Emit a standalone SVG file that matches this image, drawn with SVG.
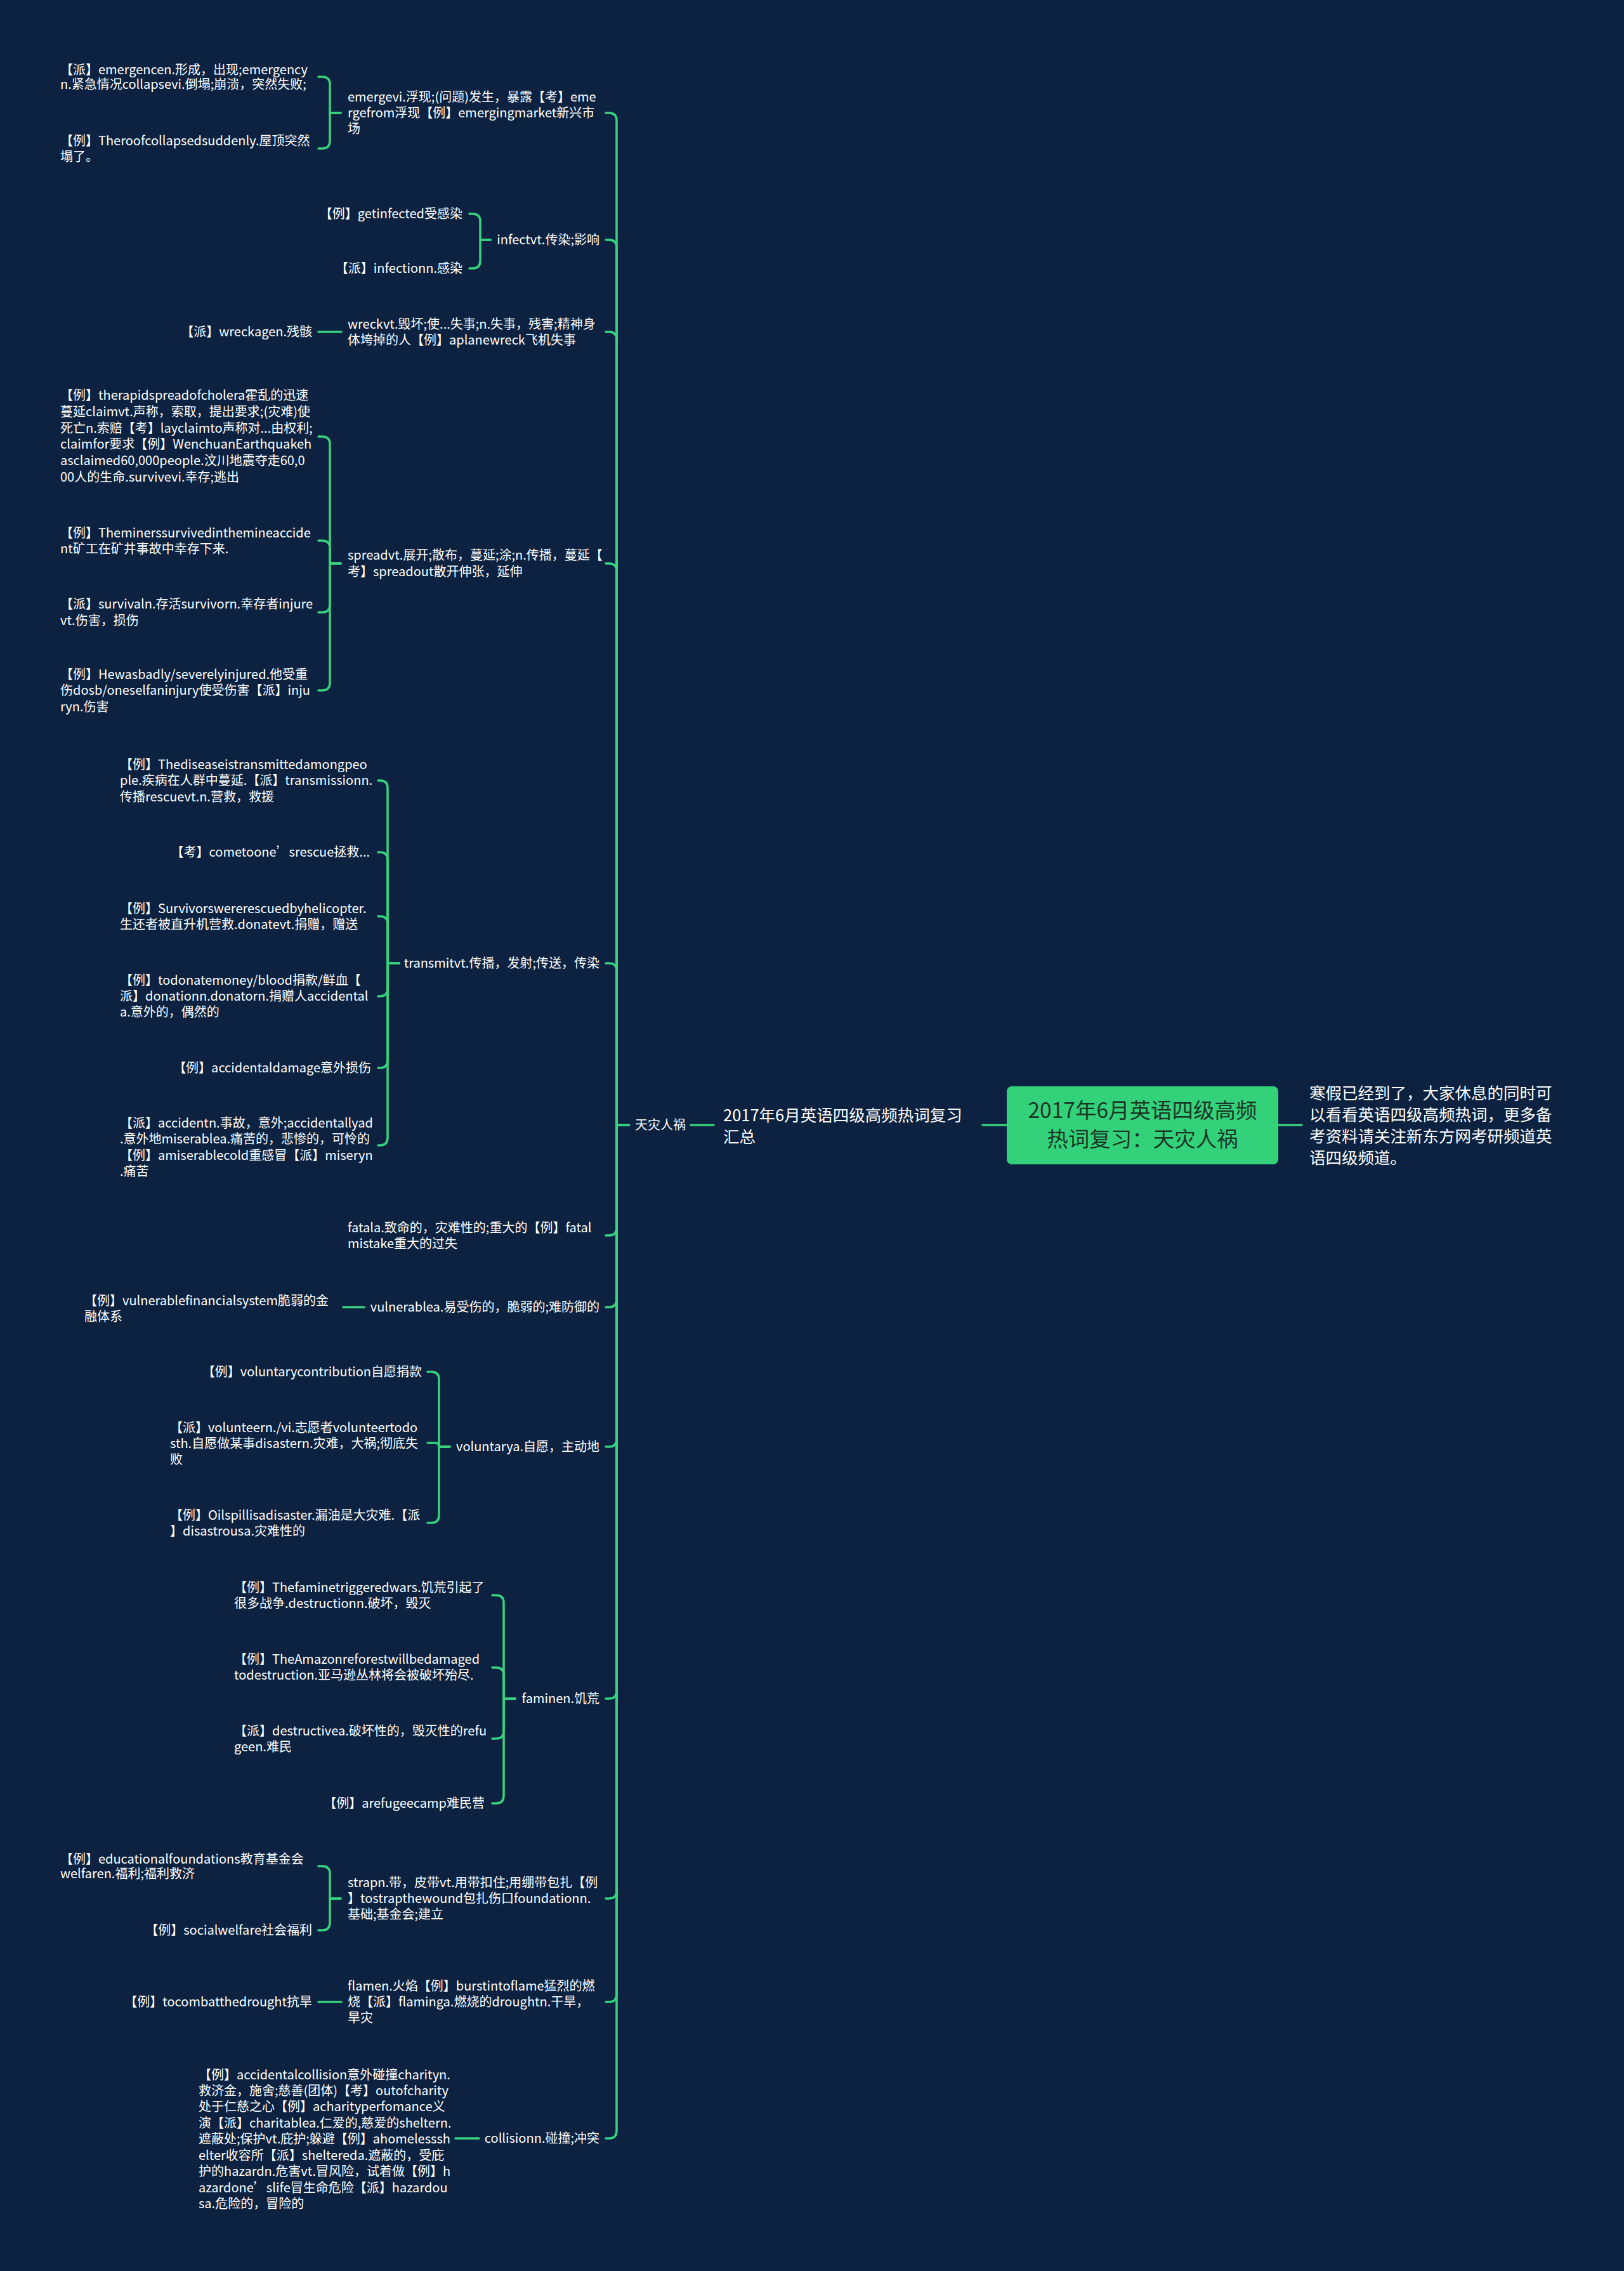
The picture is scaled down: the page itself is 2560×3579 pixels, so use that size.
<svg xmlns="http://www.w3.org/2000/svg" width="2560" height="3579" viewBox="0 0 2560 3579">
<style>
.t{font-family:"Noto Sans CJK SC","Liberation Sans",sans-serif;font-size:20px;fill:#ffffff}
.e{text-anchor:end}
.m{font-size:25.5px}
.r{font-family:"Noto Sans CJK SC","Liberation Sans",sans-serif;font-size:33.5px;fill:#1b3626;text-anchor:middle}
.c{fill:none;stroke:#38d27e;stroke-width:3.5;stroke-linecap:round;stroke-linejoin:round}
</style>
<rect x="0" y="0" width="2560" height="3579" fill="#0c2240"/>
<g id="connectors">
<path class="c" d="M1549 1773H1587"/>
<path class="c" d="M2015 1773H2052"/>
<path class="c" d="M1089 1773H1125"/>
<path class="c" d="M991 1773H972V190Q972 178 960 178H955"/>
<path class="c" d="M991 1773H972V390Q972 378 960 378H955"/>
<path class="c" d="M991 1773H972V535Q972 523 960 523H955"/>
<path class="c" d="M991 1773H972V900Q972 888 960 888H955"/>
<path class="c" d="M991 1773H972V1530Q972 1518 960 1518H955"/>
<path class="c" d="M991 1773H972V1935Q972 1947 960 1947H955"/>
<path class="c" d="M991 1773H972V2048Q972 2060 960 2060H955"/>
<path class="c" d="M991 1773H972V2268Q972 2280 960 2280H955"/>
<path class="c" d="M991 1773H972V2665Q972 2677 960 2677H955"/>
<path class="c" d="M991 1773H972V2980Q972 2992 960 2992H955"/>
<path class="c" d="M991 1773H972V3143Q972 3155 960 3155H955"/>
<path class="c" d="M991 1773H972V3358Q972 3370 960 3370H955"/>
<path class="c" d="M537 178H520V133Q520 121 508 121H502"/>
<path class="c" d="M537 178H520V222Q520 234 508 234H502"/>
<path class="c" d="M773 378H757V349Q757 337 745 337H740"/>
<path class="c" d="M773 378H757V411Q757 423 745 423H740"/>
<path class="c" d="M538 523H502"/>
<path class="c" d="M537 888H520V700Q520 688 508 688H502"/>
<path class="c" d="M537 888H520V864Q520 852 508 852H502"/>
<path class="c" d="M537 888H520V953Q520 965 508 965H502"/>
<path class="c" d="M537 888H520V1076Q520 1088 508 1088H502"/>
<path class="c" d="M629 1518H611V1242Q611 1230 599 1230H596"/>
<path class="c" d="M629 1518H611V1355Q611 1343 599 1343H596"/>
<path class="c" d="M629 1518H611V1456Q611 1444 599 1444H596"/>
<path class="c" d="M629 1518H611V1558Q611 1570 599 1570H596"/>
<path class="c" d="M629 1518H611V1671Q611 1683 599 1683H596"/>
<path class="c" d="M629 1518H611V1793Q611 1805 599 1805H596"/>
<path class="c" d="M574 2060H541"/>
<path class="c" d="M709 2280H692V2174Q692 2162 680 2162H674"/>
<path class="c" d="M709 2280H692Q692 2274 686 2274H674"/>
<path class="c" d="M709 2280H692V2388Q692 2400 680 2400H674"/>
<path class="c" d="M812 2677H794V2526Q794 2514 782 2514H776"/>
<path class="c" d="M812 2677H794V2640Q794 2628 782 2628H776"/>
<path class="c" d="M812 2677H794V2728Q794 2740 782 2740H776"/>
<path class="c" d="M812 2677H794V2830Q794 2842 782 2842H776"/>
<path class="c" d="M537 2992H520V2953Q520 2941 508 2941H502"/>
<path class="c" d="M537 2992H520V3030Q520 3042 508 3042H502"/>
<path class="c" d="M538 3155H502"/>
<path class="c" d="M755 3370H718"/>
</g>
<g id="root">
<rect x="1587" y="1712" width="428" height="123" rx="8" fill="#33d27a"/>
<text class="r"><tspan x="1801" y="1762">2017年6月英语四级高频</tspan><tspan x="1801" y="1807">热词复习：天灾人祸</tspan></text>
</g>
<g id="desc"><text class="t m"><tspan x="2064" y="1732">寒假已经到了，大家休息的同时可</tspan><tspan x="2064" y="1766">以看看英语四级高频热词，更多备</tspan><tspan x="2064" y="1800">考资料请关注新东方网考研频道英</tspan><tspan x="2064" y="1834">语四级频道。</tspan></text></g>
<g id="summary"><text class="t m"><tspan x="1140" y="1767">2017年6月英语四级高频热词复习</tspan><tspan x="1140" y="1801">汇总</tspan></text></g>
<g id="tianzai"><text class="t" x="1001" y="1780">天灾人祸</text></g>

<g id="n-emerge"><text class="t"><tspan x="548" y="160">emergevi.浮现;(问题)发生，暴露【考】eme</tspan><tspan x="548" y="185">rgefrom浮现【例】emergingmarket新兴市</tspan><tspan x="548" y="210">场</tspan></text></g>
<g id="n-emerge-1"><text class="t"><tspan x="95" y="117">【派】emergencen.形成，出现;emergency</tspan><tspan x="95" y="140">n.紧急情况collapsevi.倒塌;崩溃，突然失败;</tspan></text></g>
<g id="n-emerge-2"><text class="t"><tspan x="95" y="229">【例】Theroofcollapsedsuddenly.屋顶突然</tspan><tspan x="95" y="254">塌了。</tspan></text></g>

<g id="n-infect"><text class="t e" x="945" y="385">infectvt.传染;影响</text></g>
<g id="n-infect-1"><text class="t e" x="729" y="344">【例】getinfected受感染</text></g>
<g id="n-infect-2"><text class="t e" x="729" y="430">【派】infectionn.感染</text></g>

<g id="n-wreck"><text class="t"><tspan x="548" y="518">wreckvt.毁坏;使...失事;n.失事，残害;精神身</tspan><tspan x="548" y="543">体垮掉的人【例】aplanewreck飞机失事</tspan></text></g>
<g id="n-wreck-1"><text class="t e" x="492" y="530">【派】wreckagen.残骸</text></g>

<g id="n-spread"><text class="t"><tspan x="548" y="882">spreadvt.展开;散布，蔓延;涂;n.传播，蔓延【</tspan><tspan x="548" y="908">考】spreadout散开伸张，延伸</tspan></text></g>
<g id="n-spread-1"><text class="t"><tspan x="95" y="630">【例】therapidspreadofcholera霍乱的迅速</tspan><tspan x="95" y="656">蔓延claimvt.声称，索取，提出要求;(灾难)使</tspan><tspan x="95" y="682">死亡n.索赔【考】layclaimto声称对...由权利;</tspan><tspan x="95" y="707">claimfor要求【例】WenchuanEarthquakeh</tspan><tspan x="95" y="733">asclaimed60,000people.汶川地震夺走60,0</tspan><tspan x="95" y="759">00人的生命.survivevi.幸存;逃出</tspan></text></g>
<g id="n-spread-2"><text class="t"><tspan x="95" y="847">【例】Theminerssurvivedinthemineaccide</tspan><tspan x="95" y="872">nt矿工在矿井事故中幸存下来.</tspan></text></g>
<g id="n-spread-3"><text class="t"><tspan x="95" y="959">【派】survivaln.存活survivorn.幸存者injure</tspan><tspan x="95" y="985">vt.伤害，损伤</tspan></text></g>
<g id="n-spread-4"><text class="t"><tspan x="95" y="1070">【例】Hewasbadly/severelyinjured.他受重</tspan><tspan x="95" y="1095">伤dosb/oneselfaninjury使受伤害【派】inju</tspan><tspan x="95" y="1121">ryn.伤害</tspan></text></g>

<g id="n-transmit"><text class="t e" x="945" y="1525">transmitvt.传播，发射;传送，传染</text></g>
<g id="n-transmit-1"><text class="t"><tspan x="189" y="1212">【例】Thediseaseistransmittedamongpeo</tspan><tspan x="189" y="1237">ple.疾病在人群中蔓延.【派】transmissionn.</tspan><tspan x="189" y="1263">传播rescuevt.n.营救，救援</tspan></text></g>
<g id="n-transmit-2"><text class="t e" x="583" y="1350">【考】cometoone’srescue拯救...</text></g>
<g id="n-transmit-3"><text class="t"><tspan x="189" y="1439">【例】Survivorswererescuedbyhelicopter.</tspan><tspan x="189" y="1464">生还者被直升机营救.donatevt.捐赠，赠送</tspan></text></g>
<g id="n-transmit-4"><text class="t"><tspan x="189" y="1552">【例】todonatemoney/blood捐款/鲜血【</tspan><tspan x="189" y="1577">派】donationn.donatorn.捐赠人accidental</tspan><tspan x="189" y="1602">a.意外的，偶然的</tspan></text></g>
<g id="n-transmit-5"><text class="t e" x="585" y="1690">【例】accidentaldamage意外损伤</text></g>
<g id="n-transmit-6"><text class="t"><tspan x="189" y="1777">【派】accidentn.事故，意外;accidentallyad</tspan><tspan x="189" y="1802">.意外地miserablea.痛苦的，悲惨的，可怜的</tspan><tspan x="189" y="1828">【例】amiserablecold重感冒【派】miseryn</tspan><tspan x="189" y="1853">.痛苦</tspan></text></g>

<g id="n-fatal"><text class="t"><tspan x="548" y="1942">fatala.致命的，灾难性的;重大的【例】fatal</tspan><tspan x="548" y="1967">mistake重大的过失</tspan></text></g>

<g id="n-vulnerable"><text class="t e" x="945" y="2067">vulnerablea.易受伤的，脆弱的;难防御的</text></g>
<g id="n-vulnerable-1"><text class="t"><tspan x="133" y="2057">【例】vulnerablefinancialsystem脆弱的金</tspan><tspan x="133" y="2082">融体系</tspan></text></g>

<g id="n-voluntary"><text class="t e" x="945" y="2287">voluntarya.自愿，主动地</text></g>
<g id="n-voluntary-1"><text class="t e" x="665" y="2169">【例】voluntarycontribution自愿捐款</text></g>
<g id="n-voluntary-2"><text class="t"><tspan x="268" y="2257">【派】volunteern./vi.志愿者volunteertodo</tspan><tspan x="268" y="2282">sth.自愿做某事disastern.灾难，大祸;彻底失</tspan><tspan x="268" y="2307">败</tspan></text></g>
<g id="n-voluntary-3"><text class="t"><tspan x="268" y="2395">【例】Oilspillisadisaster.漏油是大灾难.【派</tspan><tspan x="268" y="2420">】disastrousa.灾难性的</tspan></text></g>

<g id="n-famine"><text class="t e" x="945" y="2684">faminen.饥荒</text></g>
<g id="n-famine-1"><text class="t"><tspan x="369" y="2509">【例】Thefaminetriggeredwars.饥荒引起了</tspan><tspan x="369" y="2534">很多战争.destructionn.破坏，毁灭</tspan></text></g>
<g id="n-famine-2"><text class="t"><tspan x="369" y="2622">【例】TheAmazonreforestwillbedamaged</tspan><tspan x="369" y="2647">todestruction.亚马逊丛林将会被破坏殆尽.</tspan></text></g>
<g id="n-famine-3"><text class="t"><tspan x="369" y="2735">【派】destructivea.破坏性的，毁灭性的refu</tspan><tspan x="369" y="2760">geen.难民</tspan></text></g>
<g id="n-famine-4"><text class="t e" x="764" y="2849">【例】arefugeecamp难民营</text></g>

<g id="n-strap"><text class="t"><tspan x="548" y="2974">strapn.带，皮带vt.用带扣住;用绷带包扎【例</tspan><tspan x="548" y="2999">】tostrapthewound包扎伤口foundationn.</tspan><tspan x="548" y="3024">基础;基金会;建立</tspan></text></g>
<g id="n-strap-1"><text class="t"><tspan x="95" y="2937">【例】educationalfoundations教育基金会</tspan><tspan x="95" y="2960">welfaren.福利;福利救济</tspan></text></g>
<g id="n-strap-2"><text class="t e" x="492" y="3049">【例】socialwelfare社会福利</text></g>

<g id="n-flame"><text class="t"><tspan x="548" y="3137">flamen.火焰【例】burstintoflame猛烈的燃</tspan><tspan x="548" y="3162">烧【派】flaminga.燃烧的droughtn.干旱，</tspan><tspan x="548" y="3187">旱灾</tspan></text></g>
<g id="n-flame-1"><text class="t e" x="492" y="3162">【例】tocombatthedrought抗旱</text></g>

<g id="n-collision"><text class="t e" x="945" y="3377">collisionn.碰撞;冲突</text></g>
<g id="n-collision-1"><text class="t"><tspan x="313" y="3277">【例】accidentalcollision意外碰撞charityn.</tspan><tspan x="313" y="3302">救济金，施舍;慈善(团体)【考】outofcharity</tspan><tspan x="313" y="3327">处于仁慈之心【例】acharityperfomance义</tspan><tspan x="313" y="3353">演【派】charitablea.仁爱的,慈爱的sheltern.</tspan><tspan x="313" y="3378">遮蔽处;保护vt.庇护;躲避【例】ahomelesssh</tspan><tspan x="313" y="3404">elter收容所【派】sheltereda.遮蔽的，受庇</tspan><tspan x="313" y="3429">护的hazardn.危害vt.冒风险，试着做【例】h</tspan><tspan x="313" y="3455">azardone’slife冒生命危险【派】hazardou</tspan><tspan x="313" y="3480">sa.危险的，冒险的</tspan></text></g>
</svg>
